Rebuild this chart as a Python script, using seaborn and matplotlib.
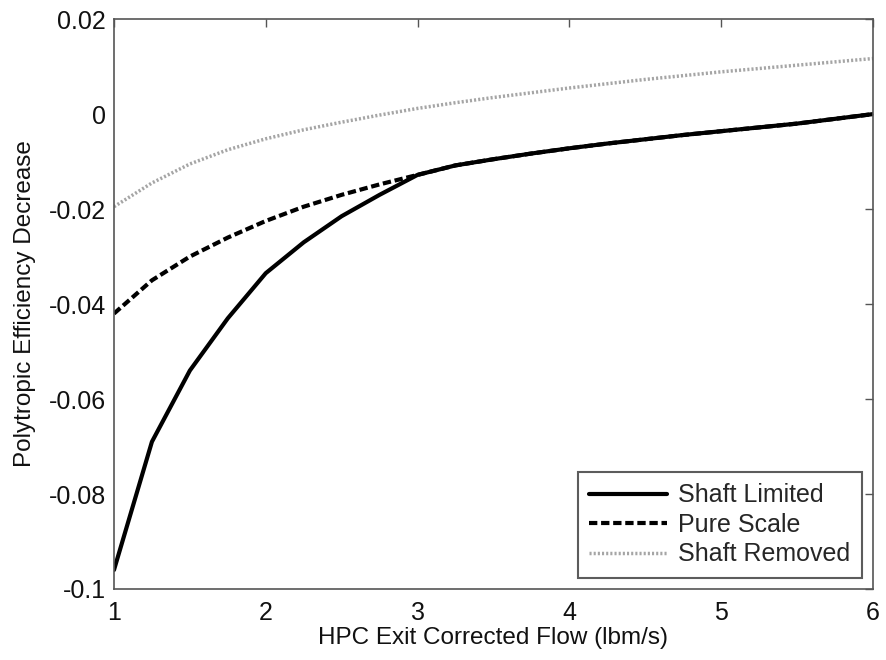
import numpy as np
import pandas as pd
import matplotlib
matplotlib.use("Agg")
import matplotlib.pyplot as plt
import seaborn as sns

# HPC exit corrected flow (lbm/s)
flow = [1.0, 1.25, 1.5, 1.75, 2.0, 2.25, 2.5, 2.75, 3.0, 3.25, 3.5, 3.75,
        4.0, 4.25, 4.5, 4.75, 5.0, 5.25, 5.5, 5.75, 6.0]

shaft_limited = [-0.096, -0.069, -0.054, -0.043, -0.0335, -0.027, -0.0215, -0.017, -0.0128,
                 -0.0108, -0.0095, -0.0083, -0.0072, -0.0062, -0.0053, -0.0044, -0.0036,
                 -0.0028, -0.0020, -0.0010, 0.0]
pure_scale = [-0.042, -0.035, -0.030, -0.026, -0.0225, -0.0195, -0.017, -0.0148, -0.0128,
              -0.0108, -0.0095, -0.0083, -0.0072, -0.0062, -0.0053, -0.0044, -0.0036,
              -0.0028, -0.0020, -0.0010, 0.0]
shaft_removed = [-0.0195, -0.0145, -0.0105, -0.0075, -0.0052, -0.0033, -0.0017, -0.0002, 0.0012,
                 0.0024, 0.0035, 0.0045, 0.0055, 0.0064, 0.0073, 0.0081, 0.0089,
                 0.0096, 0.0103, 0.0110, 0.0117]

series_names = ["Shaft Limited", "Pure Scale", "Shaft Removed"]

df = pd.DataFrame({
    "flow": flow * 3,
    "value": shaft_limited + pure_scale + shaft_removed,
    "case": [n for n in series_names for _ in flow],
})

sns.set_style("white")
plt.rcParams["font.family"] = ["Liberation Sans", "DejaVu Sans"]

fig = plt.figure(figsize=(8.87, 6.6), dpi=100)
ax = fig.add_axes([0.1285, 0.1076, 0.8555, 0.8634])

styles = {
    "Shaft Limited": dict(color="black", lw=3.0, ls="-"),
    "Pure Scale": dict(color="black", lw=3.0, ls=(0, (2.0, 0.9))),
    "Shaft Removed": dict(color="#a5a5a5", lw=2.5, ls=(0, (0.6, 0.6))),
}
# draw in reverse so Shaft Limited sits on top
for name in series_names[::-1]:
    sub = df[df["case"] == name]
    sns.lineplot(data=sub, x="flow", y="value", ax=ax, label=name, **styles[name])

ax.set_xlim(1, 6)
ax.set_ylim(-0.1, 0.02)
ax.set_xticks([1, 2, 3, 4, 5, 6])
ax.set_xticklabels(["1", "2", "3", "4", "5", "6"])
ax.set_yticks([-0.1, -0.08, -0.06, -0.04, -0.02, 0, 0.02])
ax.set_yticklabels(["-0.1", "-0.08", "-0.06", "-0.04", "-0.02", "0", "0.02"])
ax.tick_params(direction="in", top=True, right=True, length=6, width=1,
               color="#555555", labelsize=18, labelcolor="#111111")
ax.tick_params(axis="x", pad=9)
ax.tick_params(axis="y", pad=6)
for s in ax.spines.values():
    s.set_color("#555555")
    s.set_linewidth(1.2)

ax.set_xlabel("HPC Exit Corrected Flow (lbm/s)", fontsize=17.5, color="#111111", labelpad=1)
ax.set_ylabel("Polytropic Efficiency Decrease", fontsize=17.5, color="#111111", labelpad=9)

handles, labels = ax.get_legend_handles_labels()
order = [labels.index(n) for n in series_names]
leg = ax.legend([handles[i] for i in order], [labels[i] for i in order],
                loc="lower right", fontsize=18, frameon=True, fancybox=False,
                handlelength=3.1, borderaxespad=0.45, labelspacing=0.22,
                handletextpad=0.45, borderpad=0.45)
leg.get_frame().set_edgecolor("#333333")
leg.get_frame().set_linewidth(1.5)

fig.savefig("out.png", dpi=100)
plt.close(fig)
